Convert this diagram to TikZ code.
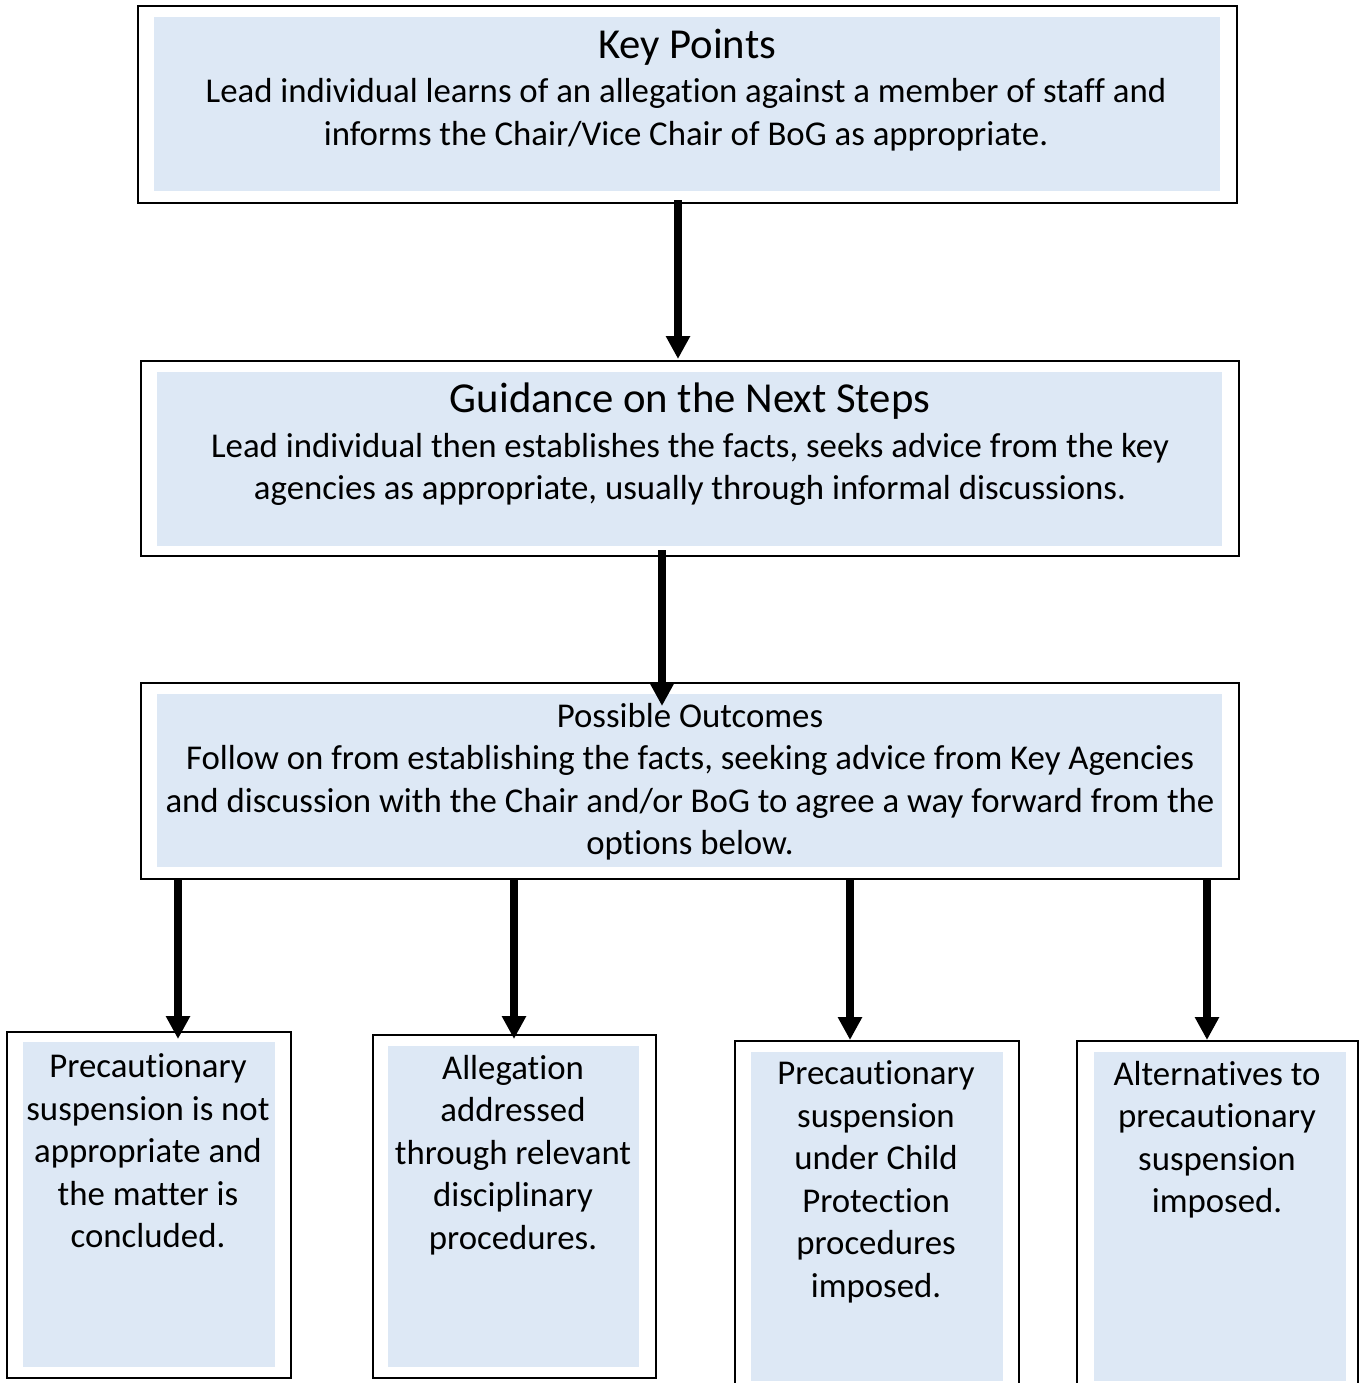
\documentclass[tikz,border=0pt]{standalone}
\usepackage{fontspec}
\setmainfont{Carlito}[Ligatures=NoCommon]
\usetikzlibrary{arrows.meta}
\definecolor{boxfill}{HTML}{DDE8F5}
\begin{document}
\begin{tikzpicture}[x=1pt,y=-1pt,
  outerbox/.style={draw=black, line width=2pt, inner sep=0pt},
  innerbox/.style={fill=boxfill, inner sep=0pt},
  bodytext/.style={align=center, font=\fontsize{34.8}{42.5}\selectfont, inner sep=0pt},
  titletext/.style={font=\fontsize{42.7}{50}\selectfont, inner sep=0pt},
  arr/.style={line width=8pt, -{Triangle[width=23pt,length=23pt]}}]
\useasboundingbox (0,0) rectangle (1359,1383);
\clip (0,0) rectangle (1359,1383);
\fill[white] (0,0) rectangle (1359,1383);
% top box
\node[innerbox, minimum width=1066pt, minimum height=174pt] (topin) at (687,104) {};
\node[outerbox, minimum width=1099pt, minimum height=197pt] (top) at (687.5,104.5) {};
% guidance box
\node[innerbox, minimum width=1065pt, minimum height=174pt] (guidin) at (689.5,459) {};
\node[outerbox, minimum width=1098pt, minimum height=195pt] (guid) at (690,458.5) {};
% outcomes box
\node[innerbox, minimum width=1065pt, minimum height=173pt] (outcin) at (689.5,780.5) {};
\node[outerbox, minimum width=1098pt, minimum height=196pt] (outc) at (690,781) {};
% bottom boxes
\node[innerbox, minimum width=252pt, minimum height=325pt] (bain) at (149,1204.5) {};
\node[outerbox, minimum width=284pt, minimum height=346pt] (ba) at (149,1205) {};
\node[innerbox, minimum width=251pt, minimum height=321pt] (bbin) at (513.5,1206.5) {};
\node[outerbox, minimum width=283pt, minimum height=343pt] (bb) at (514.5,1206.5) {};
\node[innerbox, minimum width=252pt, minimum height=329pt] (bcin) at (877,1216.5) {};
\node[outerbox, minimum width=284pt, minimum height=354pt] (bc) at (877,1218) {};
\node[innerbox, minimum width=252pt, minimum height=329pt] (bdin) at (1220,1216.5) {};
\node[outerbox, minimum width=281pt, minimum height=354pt] (bd) at (1217.5,1218) {};
% texts
\node[titletext] (toptitle) at (687,47) {Key Points};
\node[bodytext] (topbody) at (686,114.5) {Lead individual learns of an allegation against a member of staff and\\ informs the Chair/Vice Chair of BoG as appropriate.};
\node[titletext] (guidtitle) at (690,401) {Guidance on the Next Steps};
\node[bodytext] (guidbody) at (690,469.5) {Lead individual then establishes the facts, seeks advice from the key\\ agencies as appropriate, usually through informal discussions.};
\node[bodytext] (outcbody) at (690,781.5) {Possible Outcomes\\ Follow on from establishing the facts, seeking advice from Key Agencies\\ and discussion with the Chair and/or BoG to agree a way forward from the\\ options below.};
\node[bodytext] (batext) at (148,1151) {Precautionary\\ suspension is not\\ appropriate and\\ the matter is\\ concluded.};
\node[bodytext] (bbtext) at (513,1155) {Allegation\\ addressed\\ through relevant\\ disciplinary\\ procedures.};
\node[bodytext] (bctext) at (876,1182) {Precautionary\\ suspension\\ under Child\\ Protection\\ procedures\\ imposed.};
\node[bodytext] (bdtext) at (1217,1139.5) {Alternatives to\\ precautionary\\ suspension\\ imposed.};
% arrow x positions
\coordinate (xa) at (678,0);
\coordinate (xb) at (662,0);
\coordinate (xc) at (178,0);
\coordinate (xd) at (514,0);
\coordinate (xe) at (850,0);
\coordinate (xf) at (1207,0);
% arrows
\draw[arr] ([yshift=4pt]top.south -| xa) -- ([yshift=1pt]guid.north -| xa);
\draw[arr] ([yshift=7pt]guid.south -| xb) -- ([yshift=-24pt]outc.north -| xb);
\draw[arr] (outc.south -| xc) -- ([yshift=-8pt]ba.north -| xc);
\draw[arr] (outc.south -| xd) -- ([yshift=-5pt]bb.north -| xd);
\draw[arr] (outc.south -| xe) -- (bc.north -| xe);
\draw[arr] (outc.south -| xf) -- (bd.north -| xf);
\end{tikzpicture}
\end{document}
